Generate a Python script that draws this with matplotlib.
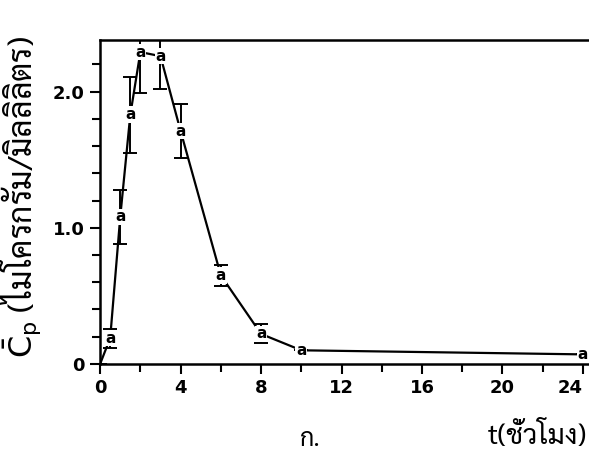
"""
ความเข้มข้นของยาในพลาสมาเทียบกับเวลา (กราฟ ก.)
"""

import matplotlib

matplotlib.use("Agg")
import matplotlib.pyplot as plt

# ข้อมูลอ่านจากกราฟ
times = [0, 0.5, 1, 1.5, 2, 3, 4, 6, 8, 10, 24]
conc = [0, 0.19, 1.08, 1.83, 2.29, 2.26, 1.71, 0.65, 0.22, 0.10, 0.07]
err = [0, 0.07, 0.20, 0.28, 0.30, 0.24, 0.20, 0.08, 0.07, 0, 0]
marked = [False, True, True, True, True, True, True, True, True, True, True]

x_ticks = [0, 4, 8, 12, 16, 20, 24]
y_ticks = [0, 1.0, 2.0]
y_ticklabels = ["0", "1.0", "2.0"]

THAI = ["Sarabun", "Taviraj", "Athiti", "DejaVu Sans"]
plt.rcParams["font.family"] = THAI

fig = plt.figure(figsize=(5.89, 4.63), dpi=100)
ax = fig.add_axes([0.170, 0.214, 0.830, 0.700])

ax.plot(times, conc, "-", color="black", lw=1.6, zorder=2)
ax.errorbar(times, conc, yerr=err, fmt="none", ecolor="black",
            elinewidth=1.4, capsize=5, capthick=1.4, zorder=2)
for t, c, m in zip(times, conc, marked):
    if m:
        ax.text(t, c, "a", ha="center", va="center", fontsize=11,
                fontweight="bold", family="DejaVu Sans", zorder=3,
                bbox=dict(boxstyle="square,pad=0.05", fc="white", ec="none"))

ax.set_xlim(0, 24.3)
ax.set_ylim(0, 2.38)
ax.set_xticks(x_ticks)
ax.set_xticks(list(range(0, 25, 2)), minor=True)
ax.set_yticks(y_ticks)
ax.set_yticklabels(y_ticklabels)
ax.set_yticks([i * 0.2 for i in range(12)], minor=True)

for lab in ax.get_xticklabels() + ax.get_yticklabels():
    lab.set_fontweight("bold")
    lab.set_fontsize(13)
    lab.set_family("DejaVu Sans")
# "24" ชิดขอบขวา
ax.xaxis.get_major_ticks()[-1].label1.set_horizontalalignment("right")

ax.tick_params(which="both", direction="out", width=1.5, color="black")
ax.tick_params(which="major", length=7, pad=4)
ax.tick_params(which="minor", length=6)
ax.spines["right"].set_visible(False)
for s in ("left", "bottom", "top"):
    ax.spines[s].set_linewidth(1.8)

fig.text(0.036, 0.575, r"$\bar{\mathrm{C}}_\mathrm{p}$ (ไมโครกรัม/มิลลิลิตร)",
         rotation=90, ha="center", va="center", fontsize=23)
fig.text(0.997, 0.058, "t(ชั่วโมง)", ha="right", va="center", fontsize=20)
fig.text(0.51, 0.05, "ก.", ha="left", va="center", fontsize=18)

fig.savefig("out.png", dpi=100)
